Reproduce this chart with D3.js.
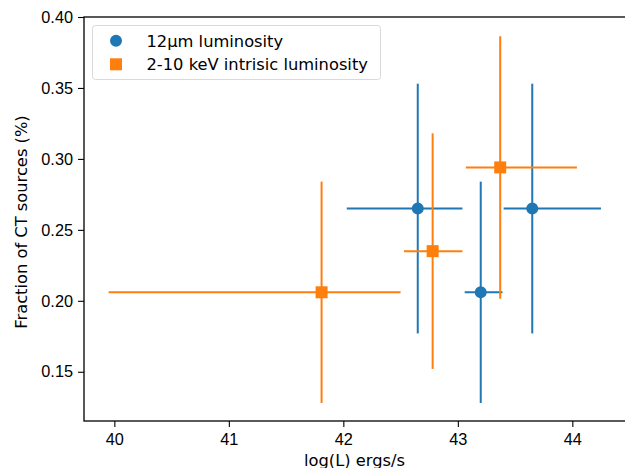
<!DOCTYPE html>
<html>
<head>
<meta charset="utf-8">
<script src="https://cdn.jsdelivr.net/npm/d3@7"></script>
<style>
  body { margin: 0; background: #fff; }
  svg { display: block; font-family: "DejaVu Sans", sans-serif; }
</style>
</head>
<body>
<div id="chart"></div>
<script>
// 12um luminosity series
const irX = [42.65, 43.20, 43.65];
const irY = [0.265, 0.206, 0.265];
const irXErrLo = [0.62, 0.14, 0.25];
const irXErrHi = [0.39, 0.19, 0.60];
const irYErr = [0.088, 0.078, 0.088];

// 2-10 keV intrinsic luminosity series
const xrX = [41.81, 42.78, 43.37];
const xrY = [0.206, 0.235, 0.294];
const xrXErrLo = [1.86, 0.25, 0.30];
const xrXErrHi = [0.69, 0.26, 0.67];
const xrYErr = [0.078, 0.083, 0.0925];

const xTicks = [40, 41, 42, 43, 44];
const yTicks = [0.15, 0.20, 0.25, 0.30, 0.35, 0.40];

const W = 625, H = 468;
const margin = { top: 17, right: 0, bottom: 47, left: 84 };
const FS = '16.3px';

const svg = d3.select('#chart').append('svg')
    .attr('width', W)
    .attr('height', H);

const x = d3.scaleLinear().domain([39.735, 44.46]).range([margin.left, W - margin.right]);
const y = d3.scaleLinear().domain([0.1153, 0.40]).range([H - margin.bottom, margin.top]);

const blue = '#1f77b4';
const orange = '#ff7f0e';

// axes
const xAxis = d3.axisBottom(x).tickValues(xTicks).tickSize(6).tickPadding(6).tickFormat(d3.format('d'));
const yAxis = d3.axisLeft(y).tickValues(yTicks).tickSize(6).tickPadding(5).tickFormat(d3.format('.2f'));

const gx = svg.append('g')
    .attr('transform', 'translate(0,' + (H - margin.bottom) + ')')
    .call(xAxis);
const gy = svg.append('g')
    .attr('transform', 'translate(' + margin.left + ',0)')
    .call(yAxis);

[gx, gy].forEach(function (g) {
    g.select('.domain').remove();
    g.selectAll('line').attr('stroke', '#000').attr('stroke-width', 1.1);
    g.selectAll('text').attr('fill', '#000').style('font-size', FS);
});

// frame
svg.append('rect')
    .attr('x', margin.left)
    .attr('y', margin.top)
    .attr('width', W - margin.right - margin.left + 2)
    .attr('height', H - margin.bottom - margin.top)
    .attr('fill', 'none')
    .attr('stroke', '#000')
    .attr('stroke-width', 1.3);

function drawSeries(xs, ys, xlo, xhi, yerr, color, shape) {
    const g = svg.append('g');
    xs.forEach(function (d, i) {
        g.append('line')
            .attr('x1', x(d - xlo[i])).attr('x2', x(d + xhi[i]))
            .attr('y1', y(ys[i])).attr('y2', y(ys[i]))
            .attr('stroke', color).attr('stroke-width', 2);
        g.append('line')
            .attr('x1', x(d)).attr('x2', x(d))
            .attr('y1', y(ys[i] - yerr[i])).attr('y2', y(ys[i] + yerr[i]))
            .attr('stroke', color).attr('stroke-width', 2);
    });
    g.selectAll('path.mark').data(xs).enter().append('path')
        .attr('class', 'mark')
        .attr('d', d3.symbol().type(shape).size(shape === d3.symbolSquare ? 144 : 113))
        .attr('transform', function (d, i) { return 'translate(' + x(d) + ',' + y(ys[i]) + ')'; })
        .attr('fill', color);
}

drawSeries(irX, irY, irXErrLo, irXErrHi, irYErr, blue, d3.symbolCircle);
drawSeries(xrX, xrY, xrXErrLo, xrXErrHi, xrYErr, orange, d3.symbolSquare);

// axis labels
svg.append('text')
    .attr('x', (margin.left + W) / 2)
    .attr('y', 466)
    .attr('text-anchor', 'middle')
    .style('font-size', FS)
    .text('log(L) ergs/s');

svg.append('text')
    .attr('transform', 'translate(27,222) rotate(-90)')
    .attr('text-anchor', 'middle')
    .style('font-size', FS)
    .text('Fraction of CT sources (%)');

// legend
const legend = svg.append('g');
legend.append('rect')
    .attr('x', 92.5).attr('y', 25.5)
    .attr('width', 288).attr('height', 54)
    .attr('rx', 3)
    .attr('fill', '#fff').attr('fill-opacity', 0.8)
    .attr('stroke', '#d9d9d9');

const legendItems = [
    { label: '12μm luminosity', color: blue, shape: d3.symbolCircle },
    { label: '2-10 keV intrisic luminosity', color: orange, shape: d3.symbolSquare }
];
legendItems.forEach(function (d, i) {
    const cy = 40.7 + i * 23.6;
    legend.append('path')
        .attr('d', d3.symbol().type(d.shape).size(d.shape === d3.symbolSquare ? 144 : 113))
        .attr('transform', 'translate(116,' + cy + ')')
        .attr('fill', d.color);
    legend.append('text')
        .attr('x', 146.5).attr('y', cy + 5.8)
        .style('font-size', FS)
        .text(d.label);
});
</script>
</body>
</html>
